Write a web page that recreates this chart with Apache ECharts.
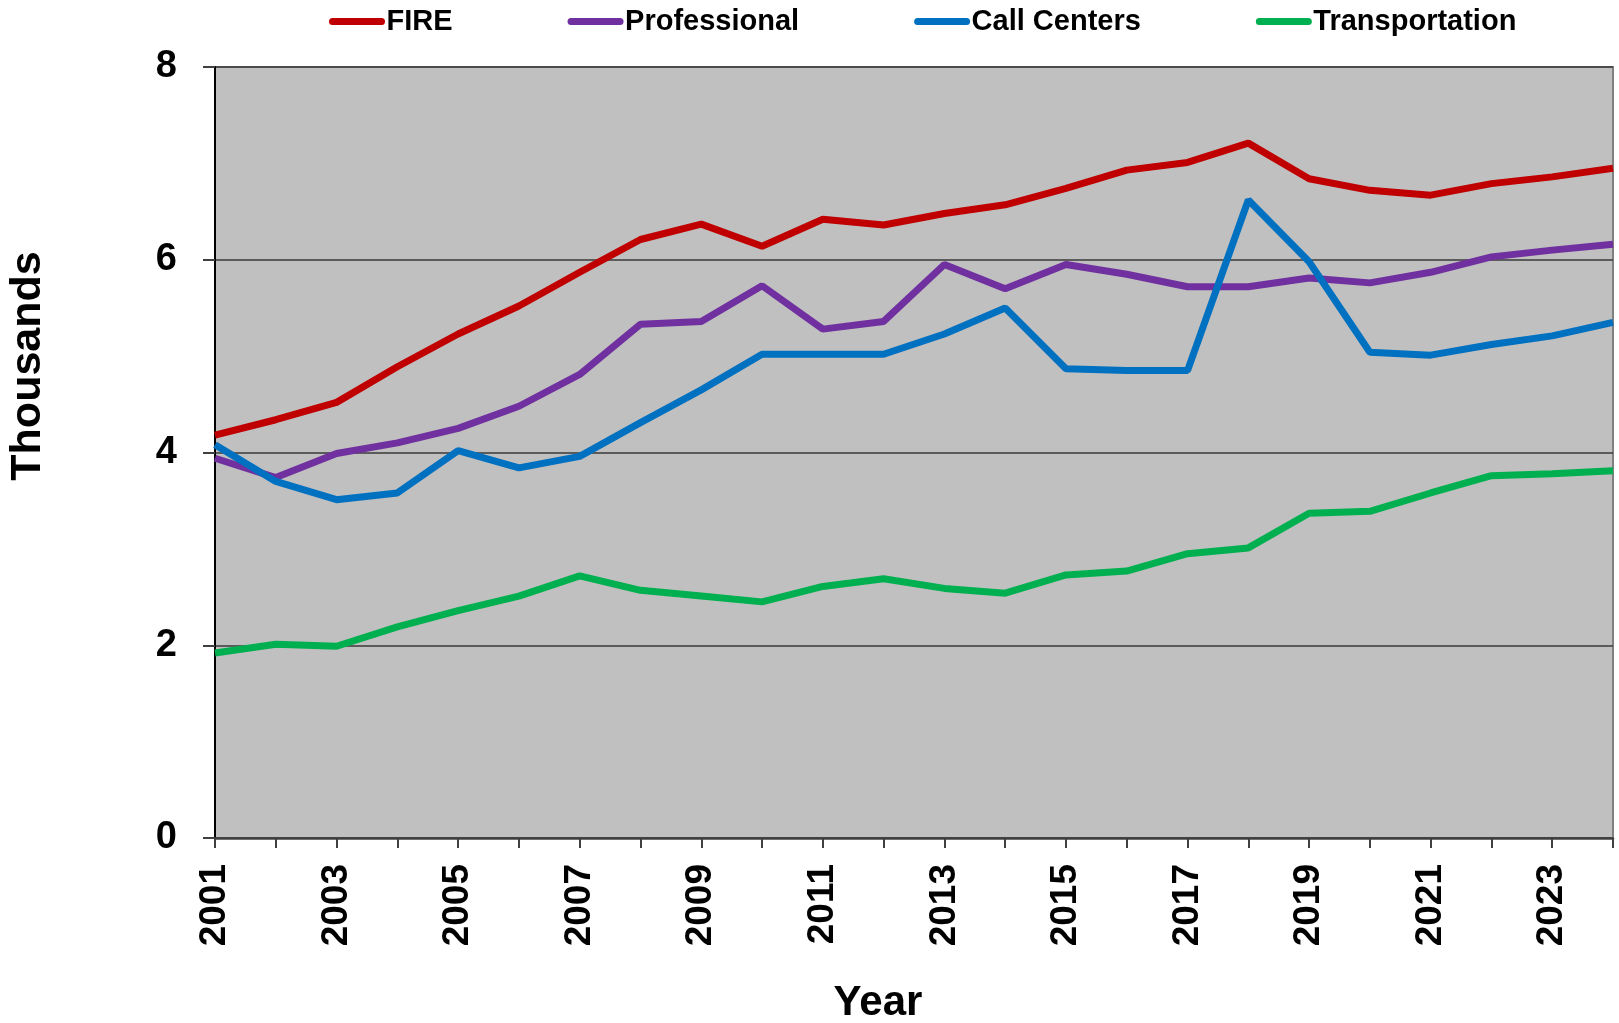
<!DOCTYPE html>
<html>
<head>
<meta charset="utf-8">
<title>Employment by Sector</title>
<script src="https://cdn.jsdelivr.net/npm/echarts@6/dist/echarts.min.js"></script>
<style>
  html, body { margin: 0; padding: 0; background: #ffffff; }
  #chart { width: 1619px; height: 1023px; }
</style>
</head>
<body>
<div id="chart"></div>
<script>
// Years on the horizontal axis
const years = ['2001','2002','2003','2004','2005','2006','2007','2008','2009','2010','2011','2012',
               '2013','2014','2015','2016','2017','2018','2019','2020','2021','2022','2023','2024'];

// Employment, in thousands
const fire = [4.18,4.34,4.52,4.89,5.23,5.52,5.87,6.21,6.37,6.14,6.42,6.36,
              6.48,6.57,6.74,6.93,7.01,7.21,6.84,6.72,6.67,6.79,6.86,6.95];
const professional = [3.94,3.74,3.99,4.10,4.25,4.48,4.81,5.33,5.36,5.73,5.28,5.36,
                      5.95,5.70,5.95,5.85,5.72,5.72,5.81,5.76,5.87,6.03,6.10,6.16];
const callCenters = [4.08,3.70,3.51,3.58,4.02,3.84,3.96,4.31,4.65,5.02,5.02,5.02,
                     5.23,5.50,4.87,4.85,4.85,6.62,5.98,5.04,5.01,5.12,5.21,5.35];
const transportation = [1.92,2.01,1.99,2.19,2.36,2.51,2.72,2.57,2.51,2.45,2.61,2.69,
                        2.59,2.54,2.73,2.77,2.95,3.01,3.37,3.39,3.58,3.76,3.78,3.81];

const FONT = "'Liberation Sans', Arial, Helvetica, sans-serif";

const chart = echarts.init(document.getElementById('chart'), null, { renderer: 'canvas' });

function lineSeries(name, data, color) {
  return {
    name: name,
    type: 'line',
    data: data,
    symbol: 'none',
    lineStyle: { color: color, width: 7 },
    itemStyle: { color: color },
    z: 3
  };
}

chart.setOption({
  animation: false,
  backgroundColor: '#ffffff',
  textStyle: { fontFamily: FONT },
  legend: {
    left: 324,
    top: 2,
    itemWidth: 49,
    itemHeight: 14,
    itemGap: 115,
    lineStyle: { width: 7, cap: 'round' },
    itemStyle: { color: 'transparent', borderColor: 'transparent', borderWidth: 0 },
    textStyle: { fontFamily: FONT, fontSize: 29, fontWeight: 'bold', color: '#000' }
  },
  grid: {
    left: 215,
    right: 6,
    top: 67,
    bottom: 185,
    show: true,
    backgroundColor: '#C0C0C0',
    borderColor: '#808080',
    borderWidth: 2
  },
  xAxis: {
    type: 'category',
    data: years,
    boundaryGap: false,
    axisLine: { show: true, lineStyle: { color: '#404040', width: 2.5 } },
    axisTick: { show: true, interval: 0, length: 10, lineStyle: { color: '#404040', width: 2 } },
    axisLabel: {
      interval: 1,
      rotate: 90,
      margin: 26,
      fontFamily: FONT,
      fontSize: 37,
      fontWeight: 'bold',
      color: '#000'
    },
    splitLine: { show: false }
  },
  yAxis: {
    type: 'value',
    min: 0,
    max: 8,
    interval: 2,
    axisLine: { show: true, lineStyle: { color: '#000', width: 2 } },
    axisTick: { show: true, length: 12, lineStyle: { color: '#404040', width: 2 } },
    axisLabel: {
      margin: 38,
      fontFamily: FONT,
      fontSize: 38,
      fontWeight: 'bold',
      color: '#000'
    },
    splitLine: { show: true, lineStyle: { color: '#3a3a3a', width: 1.5 } }
  },
  graphic: [
    {
      type: 'text',
      x: 28,
      y: 366,
      rotation: Math.PI / 2,
      style: {
        text: 'Thousands',
        fontFamily: FONT,
        fontSize: 43,
        fontWeight: 'bold',
        fill: '#000',
        align: 'center',
        verticalAlign: 'middle'
      }
    },
    {
      type: 'text',
      x: 878,
      y: 1003,
      style: {
        text: 'Year',
        fontFamily: FONT,
        fontSize: 42,
        fontWeight: 'bold',
        fill: '#000',
        align: 'center',
        verticalAlign: 'middle'
      }
    }
  ],
  series: [
    lineSeries('FIRE', fire, '#C00000'),
    lineSeries('Professional', professional, '#7030A0'),
    lineSeries('Call Centers', callCenters, '#0070C0'),
    lineSeries('Transportation', transportation, '#00B050')
  ]
});
</script>
</body>
</html>
